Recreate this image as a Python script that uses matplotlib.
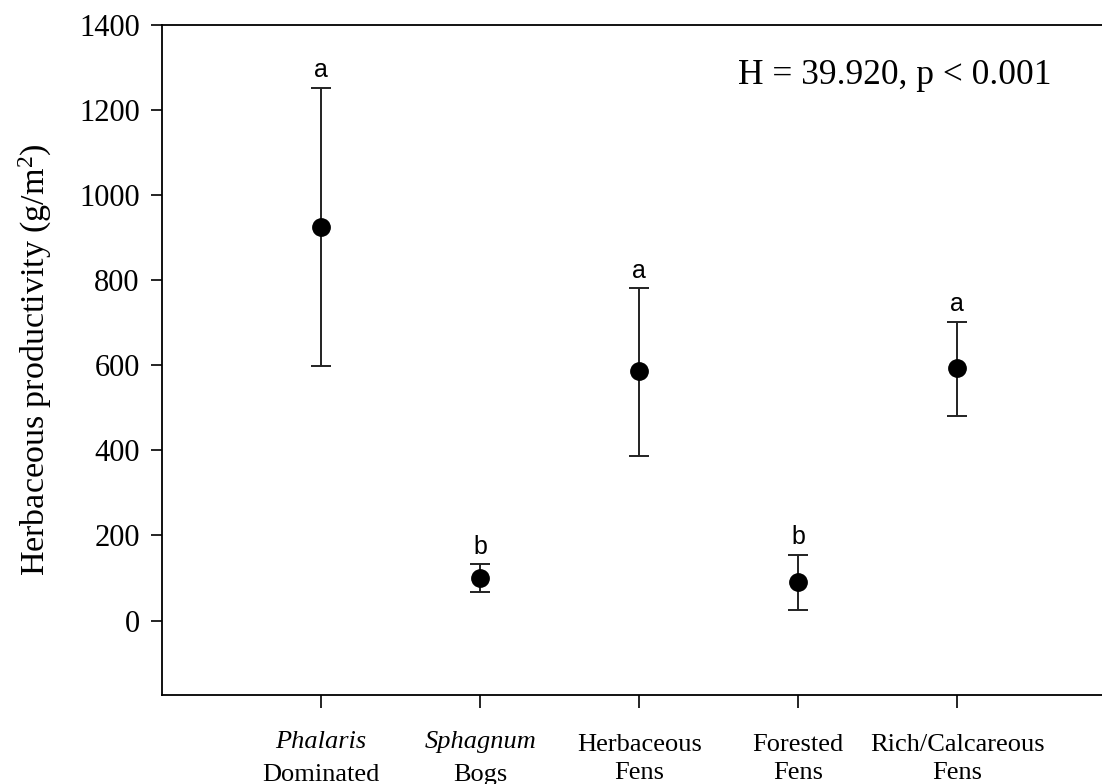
import matplotlib.pyplot as plt
import numpy as np

plt.rcParams['font.family'] = 'Liberation Serif'
plt.rcParams['mathtext.fontset'] = 'custom'
plt.rcParams['mathtext.rm'] = 'Liberation Serif'
plt.rcParams['mathtext.it'] = 'Liberation Serif:italic'

# data
genus = ['Phalaris', 'Sphagnum', '', '', '']
kinds = ['Dominated', 'Bogs', 'Herbaceous\nFens', 'Forested\nFens', 'Rich/Calcareous\nFens']
means = [925, 101, 586, 91, 593]
upper = [1253, 132, 781, 155, 703]
lower = [598, 68, 388, 24, 480]
letters = ['a', 'b', 'a', 'b', 'a']

x = np.arange(1, len(means) + 1)
means = np.array(means)
yerr = [means - np.array(lower), np.array(upper) - means]

fig = plt.figure(figsize=(11.02, 7.84), dpi=100)
ax = fig.add_axes([0.147, 0.1135, 0.866, 0.8546])

ax.errorbar(x, means, yerr=yerr, fmt='o', color='black', ecolor='#222222',
            markersize=12.5, elinewidth=1.4, capsize=7.5, capthick=1.4)

# significance letters above the bars
for xi, up, let in zip(x, upper, letters):
    ax.annotate(let, (xi, up), xytext=(0, 4), textcoords='offset points',
                ha='center', va='bottom', fontsize=18, family='Liberation Sans')

ax.text(0.604, 0.925, 'H = 39.920, p < 0.001', transform=ax.transAxes,
        fontsize=25.5, ha='left', va='center')

ax.set_xlim(0, 6)
ax.set_ylim(-175, 1400)
ax.set_yticks(np.arange(0, 1401, 200))
ax.set_xticks(x)
ax.set_xticklabels([])

# two-line category labels, first line italic for genus names
tr = ax.get_xaxis_transform()
for xi, g, k in zip(x, genus, kinds):
    if g:
        ax.text(xi, -0.07, g, transform=tr, ha='center', va='center',
                fontsize=19, style='italic')
        ax.text(xi, -0.119, k, transform=tr, ha='center', va='center', fontsize=19)
    else:
        ax.text(xi, -0.0955, k, transform=tr, ha='center', va='center',
                fontsize=19, linespacing=1.4)

ax.set_ylabel('Herbaceous productivity (g/m$^2$)', fontsize=24.5, labelpad=18)
ax.tick_params(axis='y', labelsize=22, length=8, width=1.2, direction='out', pad=8)
ax.tick_params(axis='x', length=9, width=1.2, direction='out')
for s in ax.spines.values():
    s.set_linewidth(1.3)

fig.savefig('out.png', dpi=100)
